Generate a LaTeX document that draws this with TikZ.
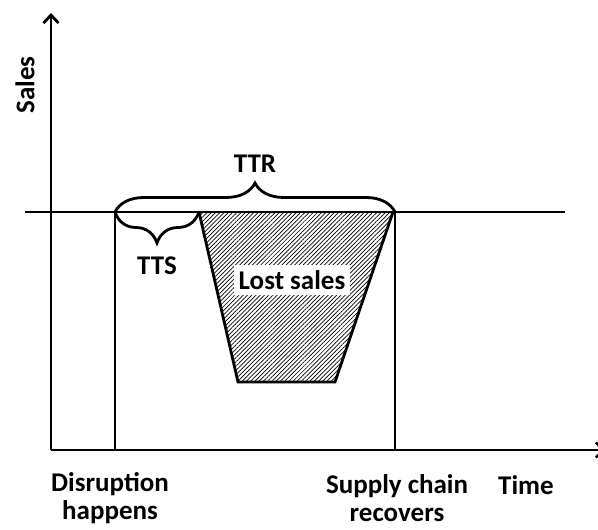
\documentclass[tikz,border=0pt]{standalone}
\usepackage{fontspec}
\setmainfont{Carlito}
\usepackage{tikz}
\usetikzlibrary{arrows.meta,positioning,patterns.meta,decorations.pathreplacing}

\begin{document}
\begin{tikzpicture}[
    x=1pt, y=1pt,
    font=\fontsize{27}{28}\selectfont\bfseries,
    line/.style={line width=2.8pt},
    axis/.style={line, -{Straight Barb[length=8pt,width=15pt]}},
    lbl/.style={align=center, inner sep=1pt},
    brc/.style={line, decorate, decoration={brace, amplitude=#1}}
]
\useasboundingbox (0,0) rectangle (598,530);

% axes
\coordinate (origin) at (51,80);
\coordinate (ytop) at (51,517);
\coordinate (xend) at (606,80);
\draw[axis] (origin) -- (ytop);
\draw[axis] (origin) -- (xend);

% normal sales level
\coordinate (lvlL) at (25,318);
\coordinate (lvlR) at (565,318);
\draw[line] (lvlL) -- (lvlR);

% disruption and recovery
\coordinate (dtop) at (115,318);
\coordinate (dbot) at (115,80);
\coordinate (rtop) at (395,318);
\coordinate (rbot) at (395,80);
\draw[line] (dtop) -- (dbot);
\draw[line] (rtop) -- (rbot);

% lost sales area
\coordinate (tl) at (199,318);
\coordinate (tr) at (393,318);
\coordinate (br) at (335,148);
\coordinate (bl) at (238,148);
\fill[pattern={Lines[angle=45,distance=3pt,line width=0.7pt]}] (tl) -- (tr) -- (br) -- (bl) -- cycle;
\draw[line] (tr) -- (br) -- (bl) -- (tl);
\draw[line, dashed, dash pattern=on 7pt off 3.5pt] (tl) -- (tr);
\node[fill=white, inner sep=5pt] (lost) at (292,250) {Lost sales};

% braces
\draw[brc=29pt] (dtop) -- (rtop);
\draw[brc=31pt] (tl) -- (dtop);
\node[lbl] (ttr) at (255,366) {TTR};
\node[lbl] (tts) at (157,264) {TTS};

% labels
\node[lbl, rotate=90] (sales) at (25,445) {Sales};
\node[lbl] (disr) at (110,32) {Disruption\\happens};
\node[lbl] (recov) at (397,32) {Supply chain\\recovers};
\node[lbl] (time) at (526,45) {Time};
\end{tikzpicture}
\end{document}
